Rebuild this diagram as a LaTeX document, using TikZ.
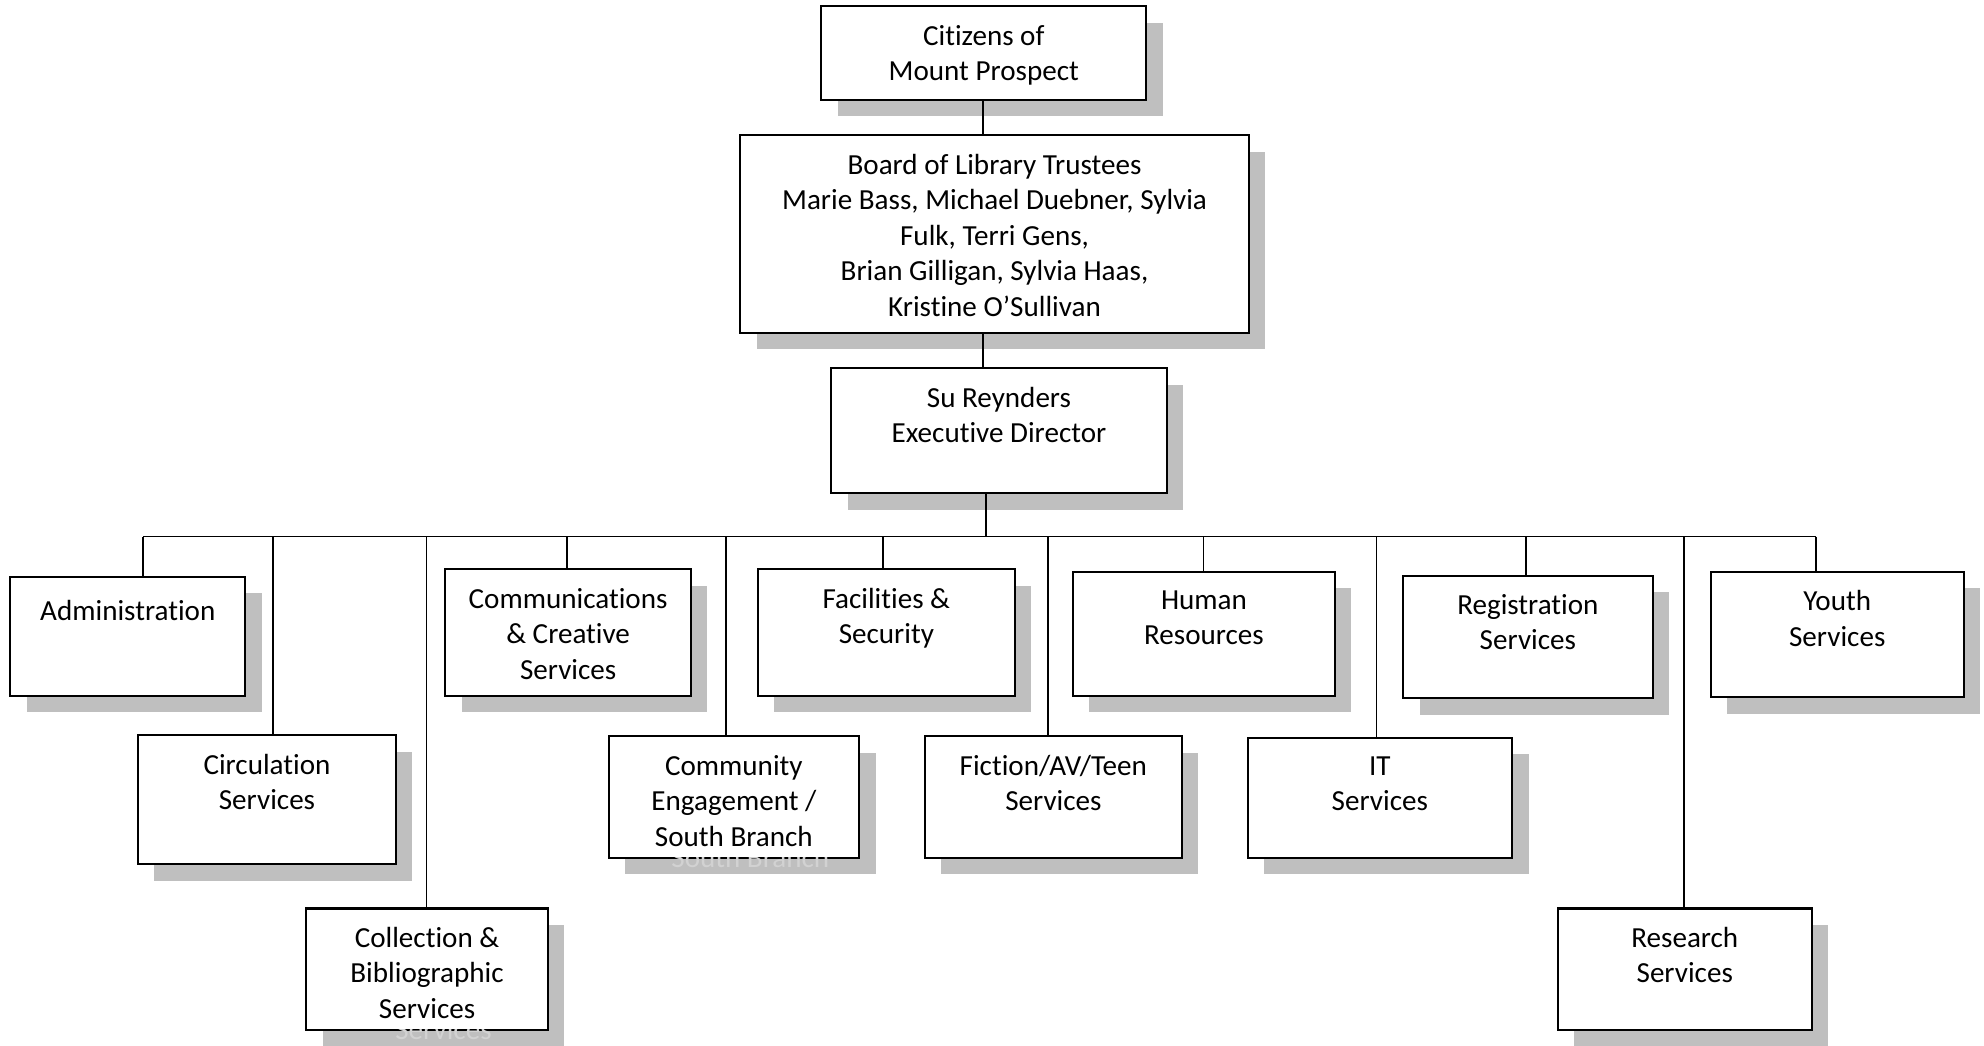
\documentclass[tikz,border=0pt]{standalone}
\usepackage{fontspec}
\setmainfont{Carlito}[Ligatures=NoCommon]
\usetikzlibrary{fit}
\definecolor{shadowgray}{HTML}{BFBFBF}
\definecolor{ghostgray}{HTML}{D2D2D2}
\tikzset{
  orgframe/.style={draw=black, line width=0.8pt, fill=white, inner sep=0pt},
  orgtext/.style={anchor=north, inner sep=0pt, align=center,
    font=\fontsize{11.5}{14}\selectfont, execute at begin node=\strut},
  link/.style={draw=black, line width=0.65pt},
}
% box with drop shadow: name, x1, y1, x2, y2, text
\newcommand\orgbox[6]{%
  \fill[shadowgray] (#2+13,#3+13) rectangle (#4+13,#5+13);
  \node[orgframe, fit={(#2,#3) (#4,#5)}] (#1) {};
  \node[orgtext] (#1-t) at ({(#2+#4)/2},{#3+14.4}) {#6};
}
% faint copy of a text line that shows in a shadow below a box
\newcommand\ghostline[6]{%
  \begin{scope}
    \clip (#2+13,#5) rectangle (#4+13,#5+13);
    \node[orgtext, text=ghostgray] (#1-g) at ({(#2+#4)/2+13},{#3+13}) {#6};
  \end{scope}
}
\begin{document}
\begin{tikzpicture}[x=0.5pt, y=-0.5pt]
\useasboundingbox (0,0) rectangle (1568,826);

\orgbox{cit}{649}{5}{906}{79}{Citizens of\\Mount Prospect}
\orgbox{board}{585}{107}{987}{263}{Board of Library Trustees\\Marie Bass, Michael Duebner, Sylvia\\Fulk, Terri Gens,\\Brian Gilligan, Sylvia Haas,\\Kristine O’Sullivan}
\orgbox{dir}{657}{291}{922}{390}{Su Reynders\\Executive Director}

\orgbox{admin}{8}{456}{194}{550}{Administration}
\orgbox{comm}{352}{450}{546}{550}{Communications\\\& Creative\\Services}
\orgbox{fac}{599}{450}{802}{550}{Facilities \&\\Security}
\orgbox{hr}{848}{452}{1055}{550}{Human\\Resources}
\orgbox{reg}{1109}{455}{1306}{552}{Registration\\Services}
\orgbox{youth}{1352}{452}{1552}{551}{Youth\\Services}

\orgbox{circ}{109}{581}{313}{683}{Circulation\\Services}
\orgbox{comt}{481}{582}{679}{678}{Community\\Engagement /\\South Branch}
\orgbox{fic}{731}{582}{934}{678}{Fiction/AV/Teen\\Services}
\orgbox{it}{986}{583}{1195}{678}{IT\\Services}

\orgbox{coll}{242}{718}{433}{814}{Collection \&\\Bibliographic\\Services}
\orgbox{res}{1231}{718}{1432}{814}{Research\\Services}

\ghostline{comt}{481}{652.4}{679}{678}{South Branch}
\ghostline{coll}{242}{788.4}{433}{814}{Services}

% junction points on the bus
\coordinate (bus) at (779,424);
\coordinate (admin-j) at (113,424);
\coordinate (circ-j) at (216,424);
\coordinate (coll-j) at (337,424);
\coordinate (comm-j) at (448,424);
\coordinate (comt-j) at (574,424);
\coordinate (fac-j) at (698,424);
\coordinate (fic-j) at (828,424);
\coordinate (hr-j) at (951,424);
\coordinate (it-j) at (1088,424);
\coordinate (reg-j) at (1206,424);
\coordinate (res-j) at (1331,424);
\coordinate (youth-j) at (1435,424);
\coordinate (top-j) at (777,0);

% upper connectors
\draw[link] (cit.south -| top-j) -- (board.north -| top-j);
\draw[link] (board.south -| top-j) -- (dir.north -| top-j);
\draw[link] (dir.south -| bus) -- (bus);

% bus
\draw[link] (admin-j) -- (youth-j);

% drops
\foreach \n in {admin,circ,coll,comm,comt,fac,fic,hr,it,reg,res,youth}{
  \draw[link] (\n-j) -- (\n-j |- \n.north);
}
\end{tikzpicture}
\end{document}
